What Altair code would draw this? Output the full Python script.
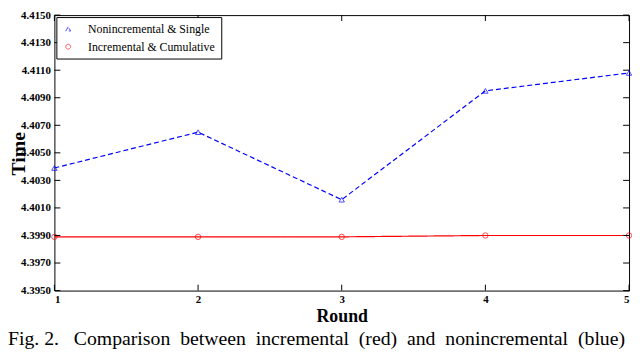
import altair as alt
import pandas as pd

rounds = [1, 2, 3, 4, 5]
series_names = ["Nonincremental & Single", "Incremental & Cumulative"]
nonincremental = [4.4039, 4.4065, 4.4016, 4.4095, 4.4108]
incremental = [4.3989, 4.3989, 4.3989, 4.3990, 4.3990]
y_ticks = [4.3950, 4.3970, 4.3990, 4.4010, 4.4030, 4.4050, 4.4070,
           4.4090, 4.4110, 4.4130, 4.4150]
caption = "Fig.\u00a02.\u00a0\u00a0\u00a0Comparison\u00a0 between\u00a0 incremental\u00a0 (red)\u00a0 and\u00a0 nonincremental\u00a0 (blue)"

df = pd.DataFrame({
    "Round": rounds * 2,
    "Time": nonincremental + incremental,
    "series": [series_names[0]] * len(rounds) + [series_names[1]] * len(rounds),
})

W = 582
H = 279
FONT = "Liberation Serif"

x_scale = alt.Scale(domain=[1, 5], nice=False, zero=False)
y_scale = alt.Scale(domain=[4.395, 4.415], nice=False, zero=False)

legend_cfg = dict(
    title=None, orient="top-left", offset=2, strokeColor="black", fillColor="white",
    padding=6, rowPadding=6, labelFont=FONT, labelFontSize=12, labelColor="black",
    symbolSize=24, symbolStrokeWidth=1, labelOffset=14, cornerRadius=0,
)

color_scale = alt.Scale(domain=series_names, range=["#0000ff", "#ff0000"])
shape_scale = alt.Scale(domain=series_names, range=["triangle-up", "circle"])

x_axis = alt.Axis(values=rounds, format="d", title="Round", tickSize=0, domain=False,
                  grid=False, labelFont=FONT, labelFontSize=11, labelFontWeight="bold",
                  labelColor="black", labelPadding=3, titleFont=FONT, titleFontSize=18,
                  titleFontWeight="bold", titleColor="black", titleY=26,
                  titleBaseline="middle")
y_axis = alt.Axis(values=y_ticks, format=".4f", title="Time", tickSize=0, domain=False,
                  grid=False, labelFont=FONT, labelFontSize=11, labelFontWeight="bold",
                  labelColor="black", labelPadding=4, titleFont=FONT, titleFontSize=20,
                  titleFontWeight="bold", titleColor="black", titleX=-36, titleY=140,
                  titleBaseline="middle", titleAngle=-90)

base = alt.Chart(df)

points = base.mark_point(filled=False, size=30, strokeWidth=1).encode(
    x=alt.X("Round:Q", scale=x_scale, axis=x_axis),
    y=alt.Y("Time:Q", scale=y_scale, axis=y_axis),
    color=alt.Color("series:N", scale=color_scale, legend=alt.Legend(**legend_cfg)),
    shape=alt.Shape("series:N", scale=shape_scale, legend=alt.Legend(**legend_cfg)),
)

lines = base.mark_line(strokeWidth=1.2).encode(
    x=alt.X("Round:Q", scale=x_scale, axis=x_axis),
    y=alt.Y("Time:Q", scale=y_scale, axis=y_axis),
    color=alt.Color("series:N", scale=color_scale, legend=alt.Legend(**legend_cfg)),
    strokeDash=alt.StrokeDash("series:N",
                              scale=alt.Scale(domain=series_names, range=[[5, 3], [1, 0]]),
                              legend=None),
)

xt = pd.DataFrame({"v": rounds})
yt = pd.DataFrame({"v": y_ticks})

bottom_ticks = alt.Chart(xt).mark_rule(color="black").encode(
    x=alt.X("v:Q", scale=x_scale, axis=x_axis), y=alt.value(H), y2=alt.value(H - 6))
top_ticks = alt.Chart(xt).mark_rule(color="black").encode(
    x=alt.X("v:Q", scale=x_scale, axis=x_axis), y=alt.value(0), y2=alt.value(6))
left_ticks = alt.Chart(yt).mark_rule(color="black").encode(
    y=alt.Y("v:Q", scale=y_scale, axis=y_axis), x=alt.value(0), x2=alt.value(6))
right_ticks = alt.Chart(yt).mark_rule(color="black").encode(
    y=alt.Y("v:Q", scale=y_scale, axis=y_axis), x=alt.value(W - 6), x2=alt.value(W))

cap = alt.Chart(pd.DataFrame({"t": [caption]})).mark_text(
    align="left", baseline="middle", font=FONT, fontSize=20, color="black"
).encode(x=alt.value(-47), y=alt.value(328), text="t:N")

chart = alt.layer(
    points, lines, top_ticks, bottom_ticks, left_ticks, right_ticks, cap
).properties(
    width=W, height=H,
    autosize=alt.AutoSizeParams(type="none"),
    padding={"left": 47, "top": 5, "right": 3, "bottom": 58},
    background="white",
).configure_view(
    stroke="black", strokeWidth=1
).configure_axis(
    labelFont=FONT, titleFont=FONT
).configure_legend(
    labelFont=FONT
).configure_text(font=FONT)

chart.save("out.html", embed_options={"renderer": "svg", "actions": False})
